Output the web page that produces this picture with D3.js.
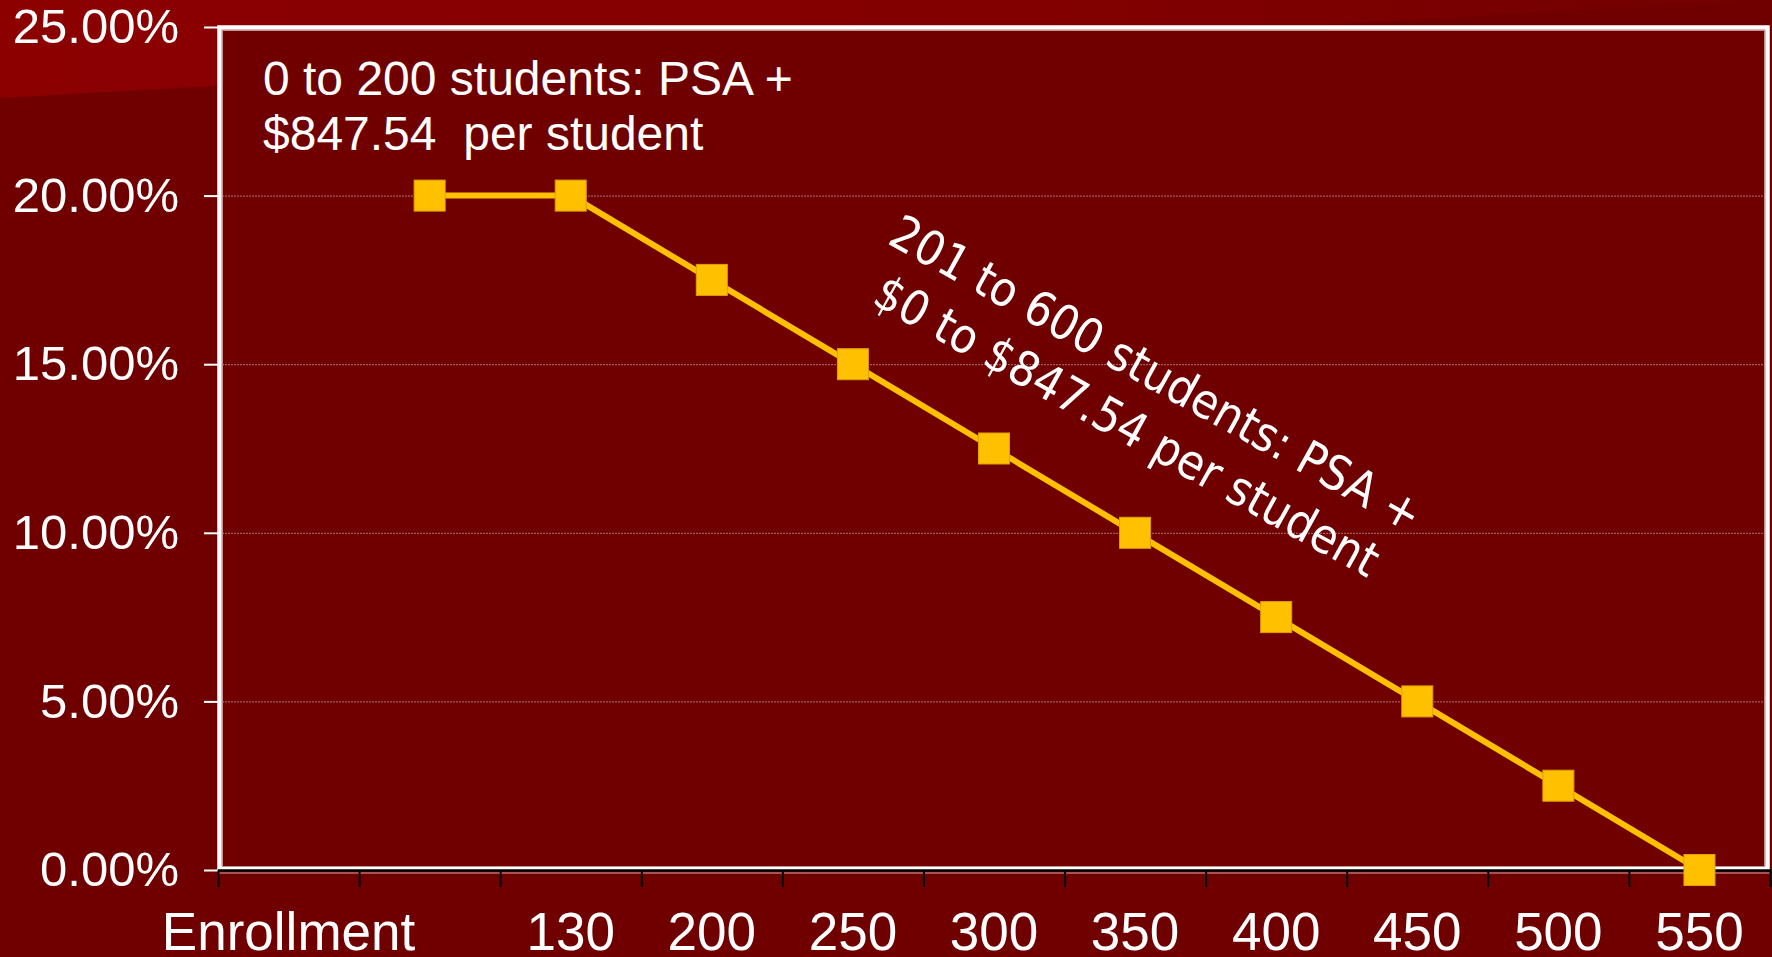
<!DOCTYPE html>
<html>
<head>
<meta charset="utf-8">
<script src="https://cdn.jsdelivr.net/npm/d3@7"></script>
<style>
  body { margin: 0; background: #700000; overflow: hidden; }
</style>
</head>
<body>
<div id="main"></div>
<script>
// data
const categories = ["Enrollment", "", "130", "200", "250", "300", "350", "400", "450", "500", "550"];
const pctValues = [null, 20, 20, 17.5, 15, 12.5, 10, 7.5, 5, 2.5, 0];
const yTicks = [0, 5, 10, 15, 20, 25];
const gridTicks = [5, 10, 15, 20];
const note1 = ["0 to 200 students: PSA +", "$847.54  per student"];
const note2 = ["201 to 600 students: PSA +", "$0 to $847.54 per student"];

const W = 1772, H = 957;
const chart = {};

function initViz()
{
    let svg = d3.select("#main").append("svg")
        .attr("width", W)
        .attr("height", H)
    chart.svg = svg;

    drawBackground();
    chart.x = d3.scaleBand().domain(categories).range([218, 1770]);
    chart.y = d3.scaleLinear().domain([0, 25]).range([870, 27]);
    drawGrid();
    drawAxes();
    drawLine();
    drawNotes();
}

function drawBackground()
{
    let svg = chart.svg;
    let defs = svg.append("defs");
    let grad = defs.append("linearGradient").attr("id", "bgGrad")
        .attr("x1", "0%").attr("x2", "100%").attr("y1", "0%").attr("y2", "0%");
    grad.append("stop").attr("offset", "0%").attr("stop-color", "#8c0000");
    grad.append("stop").attr("offset", "60%").attr("stop-color", "#820000");
    grad.append("stop").attr("offset", "100%").attr("stop-color", "#720000");

    svg.append("rect").attr("width", W).attr("height", H).attr("fill", "#700000");
    // lighter wedge top left
    svg.append("path")
        .attr("d", "M0,0 L" + W + ",0 L0,98 Z")
        .attr("fill", "url(#bgGrad)");
}

function drawGrid()
{
    let svg = chart.svg;
    let y = chart.y;
    // plot area
    svg.append("rect")
        .attr("x", 219).attr("y", 27)
        .attr("width", 1549).attr("height", 842)
        .attr("fill", "#700000");

    svg.append("g").selectAll("line")
        .data(gridTicks)
        .enter()
        .append("line")
        .attr("x1", 222).attr("x2", 1766)
        .attr("y1", d => y(d) + 0.5).attr("y2", d => y(d) + 0.5)
        .attr("stroke", "#b07474")
        .attr("stroke-width", 1)
        .attr("stroke-dasharray", "2,1");

    // white frame
    svg.append("rect")
        .attr("x", 219.5).attr("y", 27.5)
        .attr("width", 1548).attr("height", 841)
        .attr("fill", "none")
        .attr("stroke", "#ffffff")
        .attr("stroke-width", 4.5);
    svg.append("rect")
        .attr("x", 222.5).attr("y", 30.5)
        .attr("width", 1542).attr("height", 836)
        .attr("fill", "none")
        .attr("stroke", "#c89090")
        .attr("stroke-width", 1);
}

function drawAxes()
{
    let svg = chart.svg;
    let x = chart.x, y = chart.y;

    let yAxis = d3.axisLeft(y)
        .tickValues(yTicks)
        .tickSize(14)
        .tickPadding(25)
        .tickFormat(d => d.toFixed(2) + "%");
    let gy = svg.append("g").attr("transform", "translate(218,0)").call(yAxis);
    gy.select(".domain").remove();
    gy.selectAll(".tick line").attr("stroke", "#ffffff").attr("stroke-width", 2);
    gy.selectAll(".tick text")
        .attr("fill", "#ffffff")
        .style("font-family", "'Liberation Sans', Arial, sans-serif")
        .style("font-size", "49px");

    // x axis line (black) + light edge under it
    svg.append("line")
        .attr("x1", 218).attr("x2", 1771)
        .attr("y1", 870.5).attr("y2", 870.5)
        .attr("stroke", "#000000").attr("stroke-width", 2.5);
    svg.append("line")
        .attr("x1", 218).attr("x2", 1771)
        .attr("y1", 873).attr("y2", 873)
        .attr("stroke", "#d8a8a8").attr("stroke-width", 1);

    // ticks sit on the band edges
    let edges = categories.map(c => x(c)).concat([x.range()[1]]);
    svg.append("g").selectAll("line")
        .data(edges)
        .enter()
        .append("line")
        .attr("x1", d => d + 0.5).attr("x2", d => d + 0.5)
        .attr("y1", 870).attr("y2", 887)
        .attr("stroke", "#000000").attr("stroke-width", 2);

    let xAxis = d3.axisBottom(x).tickSize(0).tickPadding(42);
    let gx = svg.append("g").attr("transform", "translate(0,870)").call(xAxis);
    gx.select(".domain").remove();
    gx.selectAll(".tick text")
        .attr("fill", "#ffffff")
        .style("font-family", "'Liberation Sans', Arial, sans-serif")
        .style("font-size", "53px");
}

function drawLine()
{
    let svg = chart.svg;
    let x = chart.x, y = chart.y;
    let pts = categories.map((c, i) => ({ cat: c, v: pctValues[i] }));

    let lineGenerator = d3.line()
        .defined(d => d.v != null)
        .x(d => x(d.cat) + x.bandwidth() / 2)
        .y(d => y(d.v));

    svg.append("path")
        .datum(pts)
        .attr("fill", "none")
        .attr("stroke", "#ffc000")
        .attr("stroke-width", 6)
        .attr("d", lineGenerator);

    let s = 31;
    svg.append("g").selectAll("rect")
        .data(pts.filter(d => d.v != null))
        .enter()
        .append("rect")
        .attr("x", d => x(d.cat) + x.bandwidth() / 2 - s / 2)
        .attr("y", d => y(d.v) - s / 2)
        .attr("width", s).attr("height", s)
        .attr("fill", "#ffc000")
        .attr("stroke", "#e0a000")
        .attr("stroke-width", 1);
}

function drawNotes()
{
    let svg = chart.svg;

    let t1 = svg.append("text")
        .attr("fill", "#ffffff")
        .style("font-family", "'Liberation Sans', Arial, sans-serif")
        .style("font-size", "48px")
        .style("white-space", "pre");
    t1.selectAll("tspan")
        .data(note1)
        .enter()
        .append("tspan")
        .attr("x", 263)
        .attr("y", (d, i) => 95 + i * 55)
        .text(d => d);

    let t2 = svg.append("text")
        .attr("transform", "translate(1148,388) rotate(29)")
        .attr("fill", "#ffffff")
        .attr("text-anchor", "middle")
        .style("font-family", "'DejaVu Sans Condensed', 'DejaVu Sans', sans-serif")
        .style("font-stretch", "condensed")
        .style("font-size", "48px");
    t2.selectAll("tspan")
        .data(note2)
        .enter()
        .append("tspan")
        .attr("x", 0)
        .attr("y", (d, i) => i * 60)
        .text(d => d);
}

initViz();
</script>
</body>
</html>
